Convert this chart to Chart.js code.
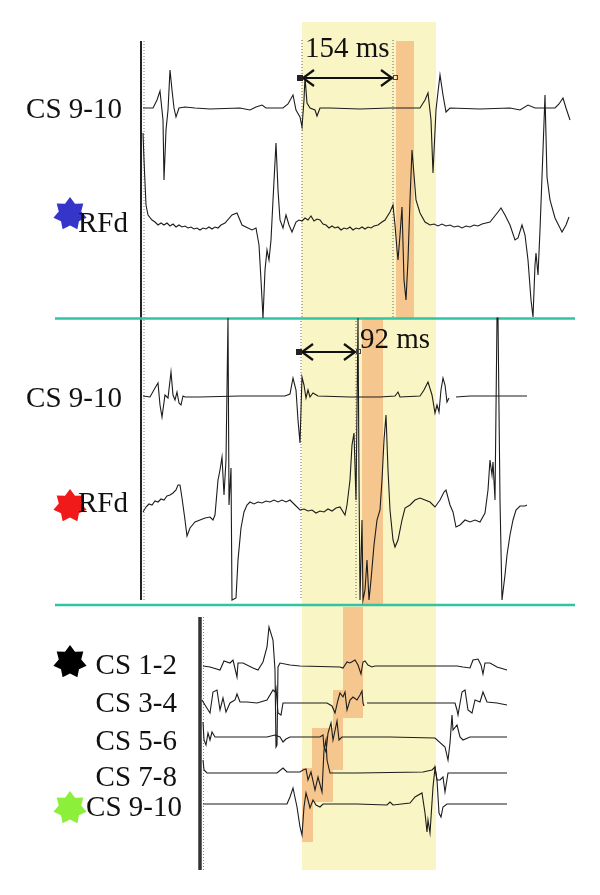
<!DOCTYPE html>
<html>
<head>
<meta charset="utf-8">
<script src="https://cdn.jsdelivr.net/npm/chart.js@4.4.1/dist/chart.umd.min.js"></script>
<style>
  html, body { margin: 0; padding: 0; background: #fff; }
  #egm { display: block; }
</style>
</head>
<body>
<canvas id="egm" width="600" height="895"></canvas>
<script>
const p1Cs = [[143,0],[153,0],[157,8],[160,17],[163,-12],[164,-72],[166,-22],[168,-2],[170,38],[172,18],[174,0],[176,-9],[179,0],[185,1],[195,0],[210,-1],[240,0],[250,-2],[256,1],[262,3],[266,0],[283,0],[288,4],[293,13],[296,-2],[300,-9],[302,-19],[304,8],[305,31],[307,5],[310,0],[315,-2],[317,-8],[320,0],[330,0],[360,-1],[390,0],[420,0],[425,8],[428,15],[431,-12],[433,-65],[436,-2],[438,16],[440,33],[443,13],[446,-4],[450,0],[480,-1],[510,0],[520,-2],[528,3],[535,0],[555,0],[559,4],[563,10],[566,0],[570,-12]];
const p1Rfd = [[143,92],[144,65],[146,20],[148,10],[152,5],[155,3],[158,0],[161,2],[164,0],[167,2],[170,-1],[173,1],[176,-2],[179,0],[182,-2],[185,-1],[188,-3],[191,-2],[194,-4],[197,-3],[200,-5],[203,-3],[206,-4],[209,-2],[212,-4],[215,-2],[218,-3],[221,0],[225,2],[232,10],[237,12],[242,0],[248,-3],[252,-5],[256,-3],[259,-20],[261,-55],[263,-93],[265,-45],[267,-25],[269,-35],[271,-15],[273,25],[276,82],[278,35],[280,5],[283,-3],[286,10],[289,0],[292,-7],[296,3],[299,5],[302,4],[305,7],[308,5],[311,9],[314,4],[317,6],[320,5],[323,1],[326,0],[329,-3],[332,-1],[335,-3],[338,-2],[341,-5],[344,-3],[347,-4],[350,-2],[353,-5],[356,-3],[359,-4],[362,-2],[365,-4],[368,-2],[371,-3],[374,-1],[378,0],[382,3],[385,5],[390,13],[393,20],[395,0],[397,-25],[398,-35],[400,-10],[402,18],[404,-55],[406,-75],[408,-35],[410,25],[412,75],[414,50],[416,25],[420,12],[425,3],[430,0],[434,1],[438,-1],[442,1],[446,-1],[450,0],[454,-2],[458,-1],[462,-3],[466,-1],[470,-2],[474,0],[478,-1],[482,1],[486,2],[490,3],[498,13],[501,17],[505,10],[510,0],[515,-15],[518,-13],[522,0],[525,-10],[528,-35],[531,-75],[533,-92],[535,-40],[536,-28],[538,-50],[540,-5],[543,75],[545,130],[547,48],[550,25],[555,7],[560,-3],[562,-7],[566,0],[569,8]];
const p2Cs = [[143,0],[150,-1],[155,8],[158,13],[160,-9],[162,-21],[165,1],[168,-2],[171,24],[173,1],[175,-4],[177,4],[179,-7],[181,-9],[183,0],[185,-1],[200,-1],[240,0],[285,0],[290,2],[293,18],[296,6],[298,-24],[300,-47],[301,-14],[302,19],[304,11],[306,-2],[308,6],[310,-1],[313,3],[318,0],[350,-1],[380,-1],[395,0],[398,4],[400,-1],[420,0],[424,6],[428,14],[432,1],[435,-17],[437,-9],[439,-16],[441,6],[443,18],[445,11],[447,-6],[449,-2],null,[456,-1],[470,0],[490,0],[527,0]];
const p2Rfd = [[143,-7],[146,-2],[149,1],[152,0],[155,4],[158,3],[161,6],[164,5],[167,9],[170,10],[173,12],[176,15],[178,20],[180,20],[182,7],[185,-15],[187,-31],[190,-23],[195,-17],[200,-15],[205,-13],[210,-12],[213,-15],[215,-10],[218,25],[220,35],[222,48],[224,10],[226,45],[228,187],[229,0],[231,37],[232,-95],[236,-93],[238,-55],[241,-23],[244,-7],[247,0],[250,3],[254,1],[258,3],[262,2],[266,4],[270,3],[274,5],[278,3],[282,5],[286,3],[290,5],[295,0],[300,-5],[304,-4],[308,-6],[312,-5],[316,-8],[320,-6],[324,-7],[328,-4],[332,-6],[336,-3],[340,-2],[345,-10],[347,0],[350,25],[352,60],[354,72],[356,5],[358,187],[359,25],[360,-95],[362,-15],[363,-95],[365,-85],[367,-55],[369,-95],[371,-75],[374,-40],[377,-15],[380,-5],[382,25],[384,65],[386,90],[388,35],[390,-5],[393,-35],[395,-42],[398,-35],[402,-15],[405,-3],[410,0],[415,5],[420,7],[425,5],[430,3],[435,-2],[440,5],[444,13],[446,15],[450,0],[453,-7],[456,-22],[460,-20],[465,-15],[470,-17],[475,-15],[480,-17],[485,-8],[488,15],[490,45],[492,30],[493,43],[495,5],[497,187],[498,187],[500,5],[502,-95],[505,-70],[507,-50],[510,-30],[513,-15],[516,-5],[520,-1],[525,-1],[527,0]];
const cs12 = [[203,0],[210,-1],[220,-4],[224,5],[230,3],[233,6],[237,-11],[238,3],[243,3],[253,-2],[258,-4],[263,4],[267,19],[269,39],[273,26],[275,-4],[276,-81],[277,-79],[278,-1],[280,3],[290,1],[300,0],[340,-1],[343,-2],[347,4],[350,3],[355,6],[358,1],[361,-8],[363,4],[365,5],[368,1],[372,-1],[375,0],[457,0],[463,-1],[470,-2],[473,6],[478,7],[481,1],[483,-8],[485,3],[490,3],[497,-1],[507,-4]];
const cs34 = [[202,3],[205,-2],[210,-10],[213,11],[217,13],[220,-7],[223,5],[226,-9],[230,0],[235,3],[237,9],[240,1],[247,1],[257,0],[267,3],[273,13],[275,11],[276,15],[278,-10],[281,-12],[283,0],[290,0],[327,0],[332,-3],[335,-10],[338,3],[340,10],[343,6],[345,11],[347,-7],[350,3],[353,6],[357,3],[360,8],[362,12],[363,0],[364,-3],null,[367,0],[450,0],[455,0],[457,-7],[458,-12],[462,11],[465,13],[468,-7],[472,-10],[475,3],[480,1],[483,11],[487,1],[497,0],[507,-2]];
const cs56 = [[203,15],[204,-3],[206,-8],[208,4],[210,-3],[212,5],[215,0],[233,0],[267,0],[275,2],[280,0],[283,-5],[286,-2],[290,0],[320,0],[323,2],[324,-10],[326,-15],[328,4],[331,14],[333,-3],[337,16],[339,-3],[342,0],[390,0],[435,-1],[445,-10],[448,-23],[450,-6],[452,22],[453,7],[457,12],[460,0],[463,-3],[470,0],[507,0]];
const cs78 = [[203,13],[204,3],[207,0],[233,0],[267,0],[277,0],[283,5],[287,1],[300,1],[303,3],[306,4],[308,-7],[311,1],[315,-17],[318,-4],[322,-19],[324,23],[326,33],[327,13],[330,0],[357,0],[423,1],[432,3],[435,6],[437,-7],[440,-7],[443,-4],[445,-19],[448,0],[453,0],[507,0]];
const cs910 = [[203,0],[233,0],[267,0],[287,0],[290,7],[293,16],[297,-3],[300,-23],[302,-31],[304,-3],[306,11],[308,4],[310,-4],[313,4],[316,-1],[320,-3],[323,0],[357,0],[387,-1],[390,2],[393,-1],[410,1],[415,7],[422,11],[425,-9],[427,-28],[428,-16],[430,-29],[433,17],[435,36],[437,24],[439,-9],[441,-13],[443,-3],[447,0],[507,0]];

const channelNames = ['CS 9-10', 'RFd', 'CS 9-10', 'RFd', 'CS 1-2', 'CS 3-4', 'CS 5-6', 'CS 7-8', 'CS 9-10'];
const channelData = [p1Cs, p1Rfd, p2Cs, p2Rfd, cs12, cs34, cs56, cs78, cs910];
const baselines = [108, 225, 396, 505, 666, 703, 737, 773, 804];

const intervalLabels = ['154 ms', '92 ms'];
// time windows
const yellowWindow = [302, 436, 22, 870];
const orangeWindows = [[396,414,41,318],[362,383,318,605],[343,363,607,718],[333,343,690,770],[312,333,728,802],[302,313,768,842]];
const calipers = [[300,393,78,40,318,57,305],[299,356,352,318,600,348,360]];

// layout
const labelPos = [[122,118,'right'],[78,232,'left'],[122,407,'right'],[78,512,'left'],[177,674,'right'],[177,712,'right'],[177,750,'right'],[177,786,'right'],[182,816,'right']];
const stars = [[70,214,'#3535c9'],[70,506,'#f01a1a'],[70,662,'#000000'],[70,808,'#8cf03a']];
const teal = '#2fc4a2';

function toPts(arr, base) {
  const out = [];
  arr.forEach((p, i) => {
    if (p === null) out.push({x: arr[i-1][0] + 0.5, y: null});
    else out.push({x: p[0], y: base - p[1]});
  });
  return out;
}

const datasets = channelData.map((d, i) => ({
  label: channelNames[i],
  data: toPts(d, baselines[i]),
  showLine: true, borderColor: '#1c1c1c', borderWidth: 1.1,
  pointRadius: 0, tension: 0, spanGaps: false
}));

function seg(x0, y0, x1, y1, color, w, dash) {
  return { data: [{x:x0,y:y0},{x:x1,y:y1}], showLine: true, borderColor: color,
           borderWidth: w, borderDash: dash || [], pointRadius: 0 };
}
// panel separators and baseline markers
datasets.push(seg(55, 318.5, 575, 318.5, teal, 2.5));
datasets.push(seg(55, 605, 575, 605, teal, 2.5));
datasets.push(seg(141, 41, 141, 600, '#222', 2));
datasets.push(seg(144, 41, 144, 600, '#555', 0.8, [1,2]));
datasets.push(seg(200, 617, 200, 870, '#333', 3.5));
datasets.push(seg(203.5, 617, 203.5, 870, '#666', 0.8, [1,2]));
calipers.forEach(c => {
  datasets.push(seg(c[0]+2, c[3], c[0]+2, c[4], '#555', 0.9, [1,2]));
  datasets.push(seg(c[1], c[3], c[1], c[4], '#555', 0.9, [1,2]));
});

const bands = {
  id: 'bands',
  beforeDatasetsDraw(chart) {
    const {ctx, scales: {x, y}} = chart;
    const rect = (r, col) => {
      ctx.fillStyle = col;
      ctx.fillRect(x.getPixelForValue(r[0]), y.getPixelForValue(r[2]),
        x.getPixelForValue(r[1]) - x.getPixelForValue(r[0]), y.getPixelForValue(r[3]) - y.getPixelForValue(r[2]));
    };
    ctx.save();
    rect(yellowWindow, '#faf5c4');
    orangeWindows.forEach(r => rect(r, '#f5c68e'));
    ctx.restore();
  }
};

const annot = {
  id: 'annot',
  afterDatasetsDraw(chart) {
    const {ctx, scales: {x, y}} = chart;
    ctx.save();
    // stars
    stars.forEach(s => {
      const cx = x.getPixelForValue(s[0]), cy = y.getPixelForValue(s[1]);
      ctx.beginPath();
      for (let k = 0; k < 14; k++) {
        const r = k % 2 ? 11.5 : 17;
        const a = -Math.PI / 2 + k * Math.PI / 7;
        ctx.lineTo(cx + r * Math.cos(a), cy + r * Math.sin(a));
      }
      ctx.closePath();
      ctx.fillStyle = s[2];
      ctx.fill();
    });
    // channel labels
    ctx.fillStyle = '#111';
    ctx.font = '29px "Liberation Serif", "Times New Roman", serif';
    ctx.textBaseline = 'alphabetic';
    channelNames.forEach((t, i) => {
      ctx.textAlign = labelPos[i][2];
      ctx.fillText(t, x.getPixelForValue(labelPos[i][0]), y.getPixelForValue(labelPos[i][1]));
    });
    // calipers
    calipers.forEach((c, i) => {
      const xa = x.getPixelForValue(c[0] + 3), xb = x.getPixelForValue(c[1] - 1), yy = y.getPixelForValue(c[2]);
      ctx.strokeStyle = '#111';
      ctx.lineWidth = 2.2;
      ctx.beginPath();
      ctx.moveTo(xa, yy); ctx.lineTo(xb, yy);
      ctx.moveTo(xa + 11, yy - 8); ctx.lineTo(xa, yy); ctx.lineTo(xa + 11, yy + 8);
      ctx.moveTo(xb - 11, yy - 8); ctx.lineTo(xb, yy); ctx.lineTo(xb - 11, yy + 8);
      ctx.stroke();
      ctx.fillStyle = '#222';
      ctx.fillRect(x.getPixelForValue(c[0]) - 3, yy - 3, 6, 6);
      ctx.lineWidth = 1;
      ctx.strokeStyle = '#444';
      ctx.strokeRect(x.getPixelForValue(c[1]) + 0.5, yy - 2.5, 4, 4);
      ctx.fillStyle = '#111';
      ctx.textAlign = 'left';
      ctx.fillText(intervalLabels[i], x.getPixelForValue(c[6]), y.getPixelForValue(c[5]));
    });
    ctx.restore();
  }
};

new Chart(document.getElementById('egm'), {
  type: 'scatter',
  data: { datasets: datasets },
  options: {
    responsive: false,
    animation: false,
    layout: { padding: 0 },
    plugins: { legend: { display: false }, tooltip: { enabled: false } },
    scales: {
      x: { type: 'linear', min: 0, max: 600, display: false },
      y: { type: 'linear', min: 0, max: 895, reverse: true, display: false }
    }
  },
  plugins: [bands, annot]
});
</script>
</body>
</html>
